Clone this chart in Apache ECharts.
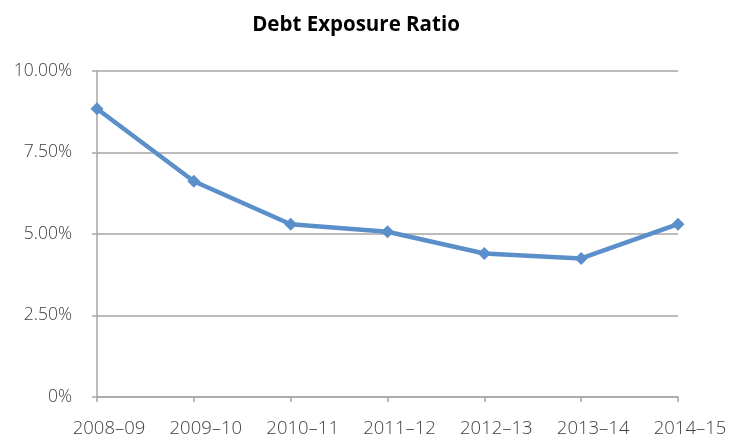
<!DOCTYPE html>
<html>
<head>
<meta charset="utf-8">
<script src="https://cdn.jsdelivr.net/npm/echarts@6/dist/echarts.min.js"></script>
<style>html,body{margin:0;padding:0;background:#fff;}#c{width:729px;height:436px;}</style>
</head>
<body>
<div id="c"></div>
<script>
var titleText = 'Debt Exposure Ratio';
var categories = ['2008\u201309','2009\u201310','2010\u201311','2011\u201312','2012\u201313','2013\u201314','2014\u201315'];
var ratioValues = [8.84, 6.62, 5.30, 5.07, 4.40, 4.25, 5.30];
var yMin = 0, yMax = 10, yInterval = 2.5;

var chart = echarts.init(document.getElementById('c'), null, {renderer:'canvas'});
chart.setOption({
  animation: false,
  backgroundColor: '#fff',
  title: {
    text: titleText,
    left: 351, top: 10, textAlign: 'center',
    textStyle: {fontFamily: 'Open Sans', fontWeight: 'bold', fontSize: 20.5, color: '#000'}
  },
  grid: {left: 97, right: 51, top: 71, bottom: 39, containLabel: false, outerBoundsMode: 'none'},
  xAxis: {
    type: 'category', data: categories, boundaryGap: false,
    axisLine: {lineStyle: {color: '#A6A6A6', width: 1.5}},
    axisTick: {show: true, alignWithLabel: true, length: 5, lineStyle: {color: '#A6A6A6', width: 1.5}},
    axisLabel: {margin: 22, padding: [0, 0, 0, 24], fontFamily: 'Open Sans', fontWeight: 300, fontSize: 18.5, color: '#404040'}
  },
  yAxis: {
    type: 'value', min: yMin, max: yMax, interval: yInterval,
    axisLine: {show: true, lineStyle: {color: '#A6A6A6', width: 1.5}},
    axisTick: {show: true, length: 5, lineStyle: {color: '#A6A6A6', width: 1.5}},
    splitLine: {show: true, lineStyle: {color: '#A6A6A6', width: 1.5}},
    axisLabel: {
      margin: 25, fontFamily: 'Open Sans', fontWeight: 300, fontSize: 17.5, color: '#404040',
      formatter: function(v){ return v === 0 ? '0%' : v.toFixed(2) + '%'; }
    }
  },
  series: [{
    type: 'line', data: ratioValues,
    symbol: 'diamond', symbolSize: 13,
    lineStyle: {color: '#5B8FCA', width: 4.5},
    itemStyle: {color: '#5B8FCA'}
  }]
});
</script>
</body>
</html>
